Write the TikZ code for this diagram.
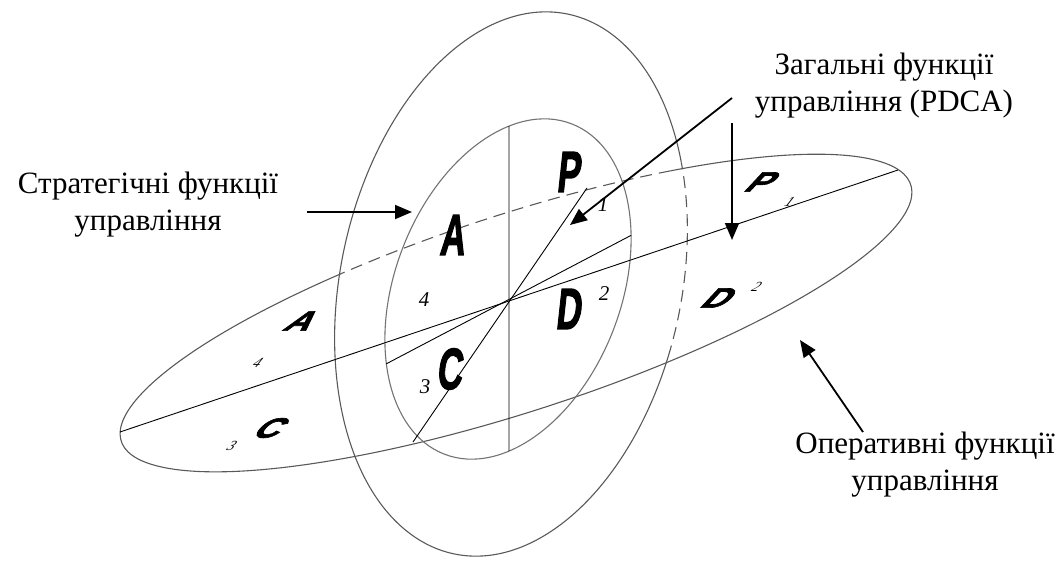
\documentclass[tikz,border=0pt]{standalone}
\usepackage{fontspec}
\setmainfont{Liberation Serif}
\newfontfamily\letterfont{Liberation Sans}[BoldFeatures={FakeBold=2.5}]
\usetikzlibrary{arrows.meta,intersections}
\begin{document}
\begin{tikzpicture}[x=1pt,y=1pt,
  ell/.style={draw=black!65, line width=1.1pt},
  dashell/.style={draw=black!65, line width=1.1pt, dash pattern=on 12pt off 7pt},
  axisline/.style={draw=black, line width=0.9pt},
  arr/.style={draw=black, line width=1.8pt, -{Triangle[length=17pt,width=14pt]}},
  lbl/.style={font=\fontsize{31}{37}\selectfont, align=center, inner sep=0},
  bigI/.style={font=\letterfont\bfseries\fontsize{58}{58}\selectfont, transform shape, xscale=0.6, xslant=0.18, inner sep=0},
  bigT/.style={font=\letterfont\bfseries\fontsize{35}{35}\selectfont, transform shape, yscale=0.8, xslant=0.75, inner sep=0},
  numI/.style={font=\itshape\fontsize{21}{21}\selectfont, inner sep=0},
  numT/.style={font=\itshape\fontsize{14}{14}\selectfont, transform shape, xslant=0.6, inner sep=0},
]
\useasboundingbox (0,0) rectangle (1063,-560);

% outer (vertical) ellipse O
\begin{scope}[shift={(511,-284)}, rotate=-12]
  \draw[ell] (34:170.5pt and 275.8pt) arc[start angle=34, end angle=351.9, x radius=170.5pt, y radius=275.8pt];
  \draw[dashell] (-8.1:170.5pt and 275.8pt) arc[start angle=-8.1, end angle=34, x radius=170.5pt, y radius=275.8pt];
\end{scope}

% tilted (horizontal) ellipse T
\begin{scope}[shift={(516,-313)}, rotate=18]
  \draw[ell] (111.6:415pt and 98.5pt) arc[start angle=111.6, end angle=422.6, x radius=415pt, y radius=98.5pt];
  \draw[dashell] (62.6:415pt and 98.5pt) arc[start angle=62.6, end angle=111.6, x radius=415pt, y radius=98.5pt];
\end{scope}

% inner ellipse I
\draw[ell, draw=black!55, name path=Ipath, rotate around={-21:(508,-289)}] (508,-289) ellipse [x radius=113pt, y radius=177pt];

% lines inside I
\path[name path=vline] (509,-90) -- (509,-500);
\path[name intersections={of=vline and Ipath, sort by=vline}];
\coordinate (Vt) at (intersection-1);
\coordinate (Vb) at (intersection-2);
\path[name path=dline] (330,-393.4) -- (690,-204.4);
\path[name intersections={of=dline and Ipath, sort by=dline}];
\coordinate (Dl) at (intersection-1);
\coordinate (Dr) at (intersection-2);
\draw[axisline] (Vt) -- (Vb);
\draw[axisline] (Dl) -- (Dr);

% lines in T
\coordinate (Tl) at (120,-432);
\coordinate (Tr) at (898,-170);
\coordinate (Gt) at (587,-188);
\coordinate (Gb) at (413,-442);
\draw[axisline] (Tl) -- (Tr);
\draw[axisline] (Gt) -- (Gb);

% letters in I plane
\node[bigI] (P1) at (570,-172) {P};
\node[bigI] (A1) at (454,-235) {A};
\node[bigI] (D1) at (570,-309) {D};
\node[bigI] (C1) at (451,-369) {C};
\node[numI] (n1) at (603,-205) {1};
\node[numI] (n2) at (604,-294) {2};
\node[numI] (n3) at (425,-387) {3};
\node[numI] (n4) at (424,-300) {4};

% letters in T plane
\node[bigT] (P2) at (763,-182) {P};
\node[bigT] (D2) at (720,-298) {D};
\node[bigT] (A2) at (303,-321) {A};
\node[bigT] (C2) at (272,-428) {C};
\node[numT] (m1) at (790,-202) {1};
\node[numT] (m2) at (757,-287) {2};
\node[numT] (m3) at (232,-446) {3};
\node[numT] (m4) at (258,-363) {4};

% labels
\node[lbl] (strat) at (148,-205) {Стратегічні функції\\управління};
\node[lbl] (zag) at (884,-86) {Загальні функції\\управління (PDCA)};
\node[lbl] (oper) at (925,-465) {Оперативні функції\\управління};

% arrows
\coordinate (sA) at (307,-212);
\coordinate (sB) at (412,-212);
\coordinate (zA) at (732,-98);
\coordinate (zB) at (570,-225);
\coordinate (vA) at (732,-123);
\coordinate (vB) at (732,-240);
\coordinate (oA) at (863,-432);
\coordinate (oB) at (800,-340);
\draw[arr] (sA) -- (sB);
\draw[arr] (zA) -- (zB);
\draw[arr] (vA) -- (vB);
\draw[arr] (oA) -- (oB);
\end{tikzpicture}
\end{document}
